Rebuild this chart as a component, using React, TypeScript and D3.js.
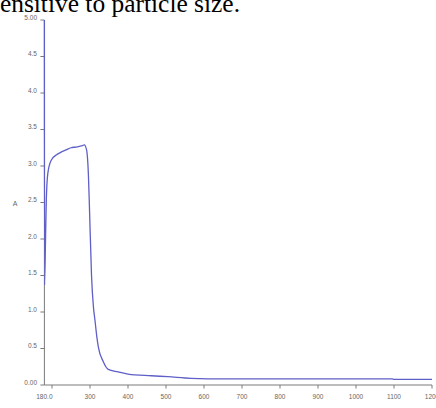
import React, { useEffect, useRef } from 'react';
import * as d3 from 'd3';

// wavelength (nm) and absorbance
const wavelengths = [180, 180.4, 183, 185, 189, 198, 211, 224, 237, 250, 263, 272, 280, 285, 291, 296, 298, 304, 309, 313, 318, 322, 335, 348, 374, 400, 461, 505, 566, 653, 800, 950, 1095, 1100, 1200];
const absorbance = [5.0, 1.37, 2.0, 2.53, 2.9, 3.08, 3.15, 3.19, 3.22, 3.25, 3.26, 3.27, 3.28, 3.29, 3.22, 2.85, 2.53, 1.5, 1.07, 0.89, 0.66, 0.52, 0.32, 0.215, 0.18, 0.15, 0.127, 0.114, 0.092, 0.085, 0.085, 0.085, 0.085, 0.078, 0.078];

const yTicks = [0, 0.5, 1, 1.5, 2, 2.5, 3, 3.5, 4, 4.5, 5];
const yTickLabels = ['0.00', '0.5', '1.0', '1.5', '2.0', '2.5', '3.0', '3.5', '4.0', '4.5', '5.00'];
const xTicks = [200, 300, 400, 500, 600, 700, 800, 900, 1000, 1100, 1200];
const xTickLabels = ['', '300', '400', '500', '600', '700', '800', '900', '1000', '1100', '1200'];

const App = () => {
  const ref = useRef(null);

  useEffect(() => {
    const W = 436;
    const H = 408;
    d3.select(ref.current).selectAll('*').remove();

    const svg = d3.select(ref.current)
      .append('svg')
      .attr('width', W)
      .attr('height', H)
      .style('position', 'absolute')
      .style('left', 0)
      .style('top', 0)
      .style('background', '#fff');

    const x = d3.scaleLinear().domain([180, 1200]).range([44.4, 432]);
    const y = d3.scaleLinear().domain([0, 5]).range([385, 20]);

    const axisColor = '#7a7a7a';
    const labelColor = '#666';
    const tickFont = 'Liberation Sans, Arial, sans-serif';
    const tickSize = 6.5;

    // text from the surrounding document
    svg.append('text')
      .attr('x', -10)
      .attr('y', 12)
      .attr('font-family', 'Liberation Serif, Times New Roman, serif')
      .attr('font-size', 25)
      .attr('textLength', 250)
      .attr('lengthAdjust', 'spacingAndGlyphs')
      .attr('fill', '#000')
      .text('sensitive to particle size.');

    // y axis
    svg.append('line')
      .attr('x1', x(180)).attr('x2', x(180))
      .attr('y1', y(5)).attr('y2', y(0))
      .attr('stroke', axisColor).attr('stroke-width', 1);

    svg.selectAll('.ytick')
      .data(yTicks)
      .enter()
      .append('line')
      .attr('x1', x(180) - 4).attr('x2', x(180))
      .attr('y1', d => y(d)).attr('y2', d => y(d))
      .attr('stroke', axisColor);

    svg.selectAll('.ylabel')
      .data(yTicks)
      .enter()
      .append('text')
      .attr('x', 37)
      .attr('y', d => y(d) - 0.5)
      .attr('text-anchor', 'end')
      .attr('font-family', tickFont)
      .attr('font-size', tickSize)
      .attr('fill', labelColor)
      .text((d, i) => yTickLabels[i]);

    // x axis
    svg.append('line')
      .attr('x1', x(180)).attr('x2', x(1200))
      .attr('y1', y(0)).attr('y2', y(0))
      .attr('stroke', axisColor);

    svg.selectAll('.xtick')
      .data(xTicks)
      .enter()
      .append('line')
      .attr('x1', d => x(d)).attr('x2', d => x(d))
      .attr('y1', y(0)).attr('y2', y(0) + 3.5)
      .attr('stroke', axisColor);

    svg.selectAll('.xlabel')
      .data(xTicks)
      .enter()
      .append('text')
      .attr('x', d => x(d))
      .attr('y', y(0) + 14)
      .attr('text-anchor', 'middle')
      .attr('font-family', tickFont)
      .attr('font-size', tickSize)
      .attr('fill', labelColor)
      .text((d, i) => xTickLabels[i]);

    svg.append('text')
      .attr('x', x(180))
      .attr('y', y(0) + 14)
      .attr('text-anchor', 'middle')
      .attr('font-family', tickFont)
      .attr('font-size', tickSize)
      .attr('fill', labelColor)
      .text('180.0');

    // axis titles
    svg.append('text')
      .attr('x', 15)
      .attr('y', y(2.5) + 3)
      .attr('text-anchor', 'middle')
      .attr('font-family', tickFont)
      .attr('font-size', 7)
      .attr('fill', labelColor)
      .text('A');

    svg.append('text')
      .attr('x', 233)
      .attr('y', 413)
      .attr('text-anchor', 'middle')
      .attr('font-family', tickFont)
      .attr('font-size', 7)
      .attr('fill', labelColor)
      .text('nm');

    // spectrum
    const points = wavelengths.map((w, i) => [w, absorbance[i]]);
    const line = d3.line()
      .x(d => x(d[0]))
      .y(d => y(d[1]))
      .curve(d3.curveMonotoneX);

    svg.append('path')
      .datum(points)
      .attr('d', line)
      .attr('fill', 'none')
      .attr('stroke', '#5f5fc8')
      .attr('stroke-width', 1.3);
  }, []);

  return <div ref={ref}></div>;
};

export default App;
